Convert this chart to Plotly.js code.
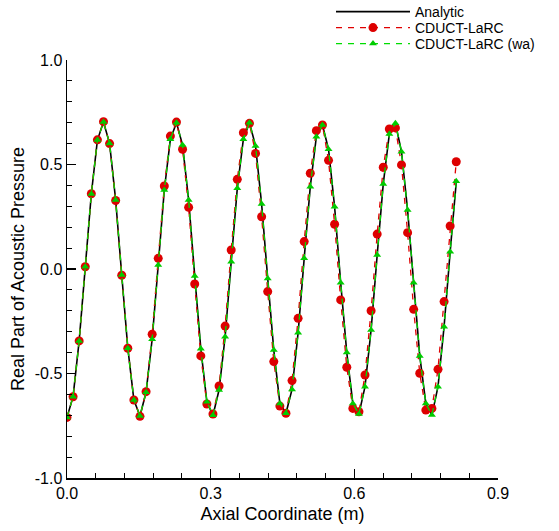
<!DOCTYPE html>
<html>
<head>
<meta charset="utf-8">
<script src="https://cdn.plot.ly/plotly-3.0.1.min.js"></script>
<style>html,body{margin:0;padding:0;background:#fff;}#chart{width:559px;height:531px;}</style>
</head>
<body>
<div id="chart"></div>
<script>
// Axial coordinate (m) of the sample stations
const xStations = [0.0000,0.0127,0.0254,0.0381,0.0508,0.0635,0.0762,0.0889,0.1016,0.1143,
  0.1270,0.1397,0.1524,0.1651,0.1778,0.1905,0.2032,0.2159,0.2286,0.2413,
  0.2540,0.2667,0.2794,0.2921,0.3048,0.3175,0.3302,0.3429,0.3556,0.3683,
  0.3810,0.3937,0.4064,0.4191,0.4318,0.4445,0.4572,0.4699,0.4826,0.4953,
  0.5080,0.5207,0.5334,0.5461,0.5588,0.5715,0.5842,0.5969,0.6096,0.6223,
  0.6350,0.6477,0.6604,0.6731,0.6858,0.6985,0.7112,0.7239,0.7366,0.7493,
  0.7620,0.7747,0.7874,0.8001,0.8128];

const analytic = [-0.710,-0.611,-0.344,0.011,0.359,0.617,0.703,0.601,0.330,-0.029,
  -0.379,-0.627,-0.703,-0.590,-0.336,0.019,0.378,0.621,0.700,0.593,
  0.330,-0.033,-0.381,-0.635,-0.700,-0.579,-0.324,0.035,0.386,0.621,
  0.700,0.589,0.311,-0.045,-0.388,-0.643,-0.690,-0.576,-0.305,0.051,
  0.394,0.633,0.689,0.573,0.298,-0.066,-0.400,-0.643,-0.694,-0.563,
  -0.292,0.067,0.407,0.646,0.697,0.561,0.282,-0.066,-0.416,-0.643,
  -0.699,-0.563,-0.276,0.083,0.415];

const cductLarc = [-0.710,-0.611,-0.344,0.011,0.360,0.618,0.705,0.600,0.328,-0.030,
  -0.379,-0.627,-0.705,-0.587,-0.312,0.051,0.397,0.636,0.703,0.573,
  0.295,-0.072,-0.416,-0.646,-0.694,-0.560,-0.273,0.091,0.429,0.652,
  0.697,0.553,0.250,-0.108,-0.443,-0.656,-0.690,-0.534,-0.236,0.131,
  0.458,0.662,0.689,0.520,0.214,-0.148,-0.470,-0.667,-0.683,-0.507,
  -0.200,0.167,0.487,0.670,0.675,0.498,0.174,-0.193,-0.499,-0.675,
  -0.667,-0.480,-0.156,0.206,0.513];

const cductLarcWa = [-0.710,-0.611,-0.344,0.011,0.359,0.617,0.703,0.601,0.330,-0.029,
  -0.379,-0.627,-0.703,-0.590,-0.336,0.019,0.378,0.621,0.700,0.593,
  0.330,-0.033,-0.381,-0.635,-0.700,-0.579,-0.324,0.035,0.386,0.621,
  0.700,0.589,0.311,-0.045,-0.388,-0.643,-0.690,-0.576,-0.305,0.051,
  0.394,0.633,0.689,0.573,0.298,-0.066,-0.400,-0.643,-0.694,-0.563,
  -0.292,0.067,0.407,0.646,0.697,0.561,0.282,-0.066,-0.416,-0.643,
  -0.699,-0.563,-0.276,0.083,0.420];

const seriesNames = ['Analytic', 'CDUCT-LaRC', 'CDUCT-LaRC (wa)'];
const xTickVals = [0, 0.3, 0.6, 0.9];
const xTickText = ['0.0', '0.3', '0.6', '0.9'];
const yTickVals = [-1, -0.5, 0, 0.5, 1];
const yTickText = ['-1.0', '-0.5', '0.0', '0.5', '1.0'];
const xTitle = 'Axial Coordinate (m)';
const yTitle = 'Real Part of Acoustic Pressure';

const FONT = '"Liberation Sans", Arial, Helvetica, sans-serif';

const traces = [
  {
    x: xStations, y: analytic, name: seriesNames[0], type: 'scatter', mode: 'lines',
    line: {color: '#000000', width: 1.6}, legend: 'legend'
  },
  {
    x: xStations, y: cductLarc, name: seriesNames[1], type: 'scatter', mode: 'lines+markers',
    line: {color: '#e00000', width: 1.3, dash: '6px,6px'},
    marker: {symbol: 'circle', size: 9, color: '#dd0000'}, legend: 'legend2'
  },
  {
    x: xStations, y: cductLarcWa, name: seriesNames[2], type: 'scatter', mode: 'lines+markers',
    line: {color: '#00dd00', width: 1.3, dash: '6px,6px'},
    marker: {symbol: 'triangle-up', size: 7, color: '#00cc00'}, legend: 'legend3'
  }
];

function leg(py) {
  return {
    xref: 'container', yref: 'container', orientation: 'h',
    x: 331 / 559, y: 1 - py / 531, xanchor: 'left', yanchor: 'middle',
    bgcolor: 'rgba(0,0,0,0)', borderwidth: 0,
    font: {family: FONT, size: 14, color: '#000'},
    itemwidth: 74, tracegroupgap: 0
  };
}

const layout = {
  width: 559, height: 531,
  margin: {l: 67, r: 61, t: 60, b: 53},
  paper_bgcolor: '#ffffff', plot_bgcolor: '#ffffff',
  font: {family: FONT, size: 16, color: '#000'},
  showlegend: true,
  legend: leg(12),
  legend2: leg(28),
  legend3: leg(44),
  xaxis: {
    range: [0, 0.9], tickmode: 'array', tickvals: xTickVals, ticktext: xTickText,
    showgrid: false, zeroline: false,
    showline: true, linecolor: '#000', linewidth: 1.5,
    ticks: 'inside', ticklen: 9, tickwidth: 1.5, tickcolor: '#000',
    minor: {dtick: 0.06, tick0: 0, ticks: 'inside', ticklen: 5, tickwidth: 1, tickcolor: '#000', showgrid: false},
    tickfont: {family: FONT, size: 16},
    title: {text: xTitle, font: {family: FONT, size: 18}, standoff: 6},
    fixedrange: true
  },
  yaxis: {
    range: [-1, 1], tickmode: 'array', tickvals: yTickVals, ticktext: yTickText,
    showgrid: false, zeroline: false,
    showline: true, linecolor: '#000', linewidth: 1.5,
    ticks: 'inside', ticklen: 9, tickwidth: 1.5, tickcolor: '#000',
    minor: {dtick: 0.1, tick0: 0, ticks: 'inside', ticklen: 5, tickwidth: 1, tickcolor: '#000', showgrid: false},
    tickfont: {family: FONT, size: 16},
    title: {text: yTitle, font: {family: FONT, size: 18}, standoff: 5},
    fixedrange: true
  }
};

Plotly.newPlot('chart', traces, layout, {displayModeBar: false, staticPlot: true});
</script>
</body>
</html>
